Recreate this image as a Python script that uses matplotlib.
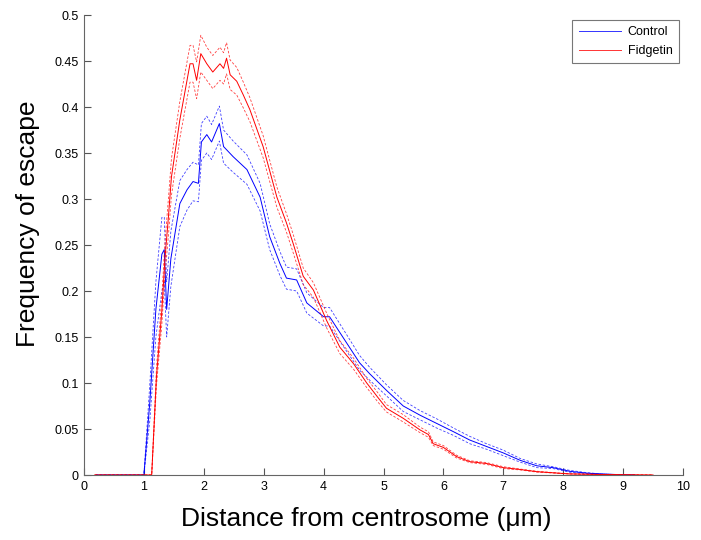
import matplotlib
matplotlib.use("Agg")
import matplotlib.pyplot as plt
import numpy as np

plt.rcParams['font.family'] = ['Liberation Sans', 'DejaVu Sans']

# Control (blue): distance, mean, error half-width
ctrl_x = [0.2, 1.0, 1.1, 1.2, 1.3, 1.34, 1.38, 1.45, 1.6, 1.72, 1.82, 1.91, 1.96, 2.05, 2.13, 2.26,
          2.33, 2.49, 2.72, 2.94, 3.1, 3.27, 3.38, 3.55, 3.72, 4.0, 4.1, 4.39, 4.6, 4.77, 5.05,
          5.33, 5.61, 5.89, 6.17, 6.44, 6.72, 7.0, 7.28, 7.56, 7.83, 8.11, 8.4, 8.67, 9.0, 9.2]
ctrl_mean = [0.0, 0.0, 0.08, 0.18, 0.24, 0.245, 0.18, 0.235, 0.295, 0.31, 0.319, 0.317, 0.362, 0.37, 0.362, 0.382,
             0.357, 0.346, 0.332, 0.302, 0.259, 0.23, 0.214, 0.212, 0.187, 0.172, 0.172, 0.143, 0.122, 0.110, 0.092,
             0.075, 0.065, 0.056, 0.047, 0.038, 0.031, 0.024, 0.016, 0.010, 0.008, 0.004, 0.002, 0.001, 0.0003, 0.0]
ctrl_err = [0.0, 0.0, 0.02, 0.03, 0.04, 0.035, 0.03, 0.03, 0.025, 0.022, 0.021, 0.02, 0.02, 0.02, 0.019, 0.019,
            0.018, 0.017, 0.016, 0.015, 0.014, 0.013, 0.012, 0.012, 0.011, 0.01, 0.01, 0.009, 0.008, 0.007, 0.006,
            0.006, 0.005, 0.005, 0.004, 0.004, 0.003, 0.003, 0.002, 0.002, 0.001, 0.001, 0.0005, 0.0, 0.0, 0.0]

# Fidgetin (red)
fidg_x = [0.18, 1.13, 1.21, 1.3, 1.35, 1.41, 1.46, 1.6, 1.77, 1.82, 1.88, 1.95, 2.05, 2.15, 2.27, 2.33,
          2.38, 2.44, 2.55, 2.66, 2.77, 2.99, 3.22, 3.38, 3.49, 3.66, 3.83, 4.05, 4.27, 4.5, 4.72,
          4.91, 5.05, 5.33, 5.61, 5.75, 5.83, 6.0, 6.22, 6.44, 6.72, 7.0, 7.28, 7.56, 8.1, 8.6, 9.0, 9.5]
fidg_mean = [0.0, 0.0, 0.107, 0.179, 0.234, 0.281, 0.324, 0.386, 0.447, 0.447, 0.429, 0.458, 0.447, 0.438, 0.447, 0.442,
             0.453, 0.435, 0.428, 0.413, 0.397, 0.357, 0.302, 0.274, 0.252, 0.216, 0.201, 0.168, 0.139, 0.121, 0.100,
             0.084, 0.0725, 0.0616, 0.049, 0.044, 0.034, 0.030, 0.020, 0.0145, 0.0125, 0.008, 0.006, 0.0036, 0.0012, 0.0006, 0.0003, 0.0]
fidg_err = [0.0, 0.0, 0.01, 0.015, 0.018, 0.02, 0.02, 0.02, 0.02, 0.02, 0.02, 0.02, 0.018, 0.018, 0.018, 0.017,
            0.017, 0.016, 0.015, 0.014, 0.013, 0.012, 0.011, 0.01, 0.01, 0.009, 0.008, 0.008, 0.007, 0.006, 0.005,
            0.005, 0.004, 0.004, 0.003, 0.003, 0.002, 0.002, 0.0015, 0.001, 0.001, 0.001, 0.0005, 0.0005, 0.0, 0.0, 0.0, 0.0]

x_ticks = [0, 1, 2, 3, 4, 5, 6, 7, 8, 9, 10]
y_ticks = [0, 0.05, 0.1, 0.15, 0.2, 0.25, 0.3, 0.35, 0.4, 0.45, 0.5]
y_ticklabels = ['0', '0.05', '0.1', '0.15', '0.2', '0.25', '0.3', '0.35', '0.4', '0.45', '0.5']

fig = plt.figure(figsize=(7.01, 5.40), dpi=100)
ax = fig.add_axes([84/701, 65/540, (683-84)/701, (475-15)/540])

blue = '#0000ff'
red = '#ff0000'

for xs, m, e, c, lab in [(ctrl_x, ctrl_mean, ctrl_err, blue, 'Control'),
                         (fidg_x, fidg_mean, fidg_err, red, 'Fidgetin')]:
    xs = np.array(xs); m = np.array(m); e = np.array(e)
    ax.plot(xs, m, color=c, lw=0.7, label=lab)
    ax.plot(xs, m + e, color=c, lw=0.6, ls=(0, (3, 2)), alpha=0.75)
    ax.plot(xs, np.maximum(m - e, 0), color=c, lw=0.6, ls=(0, (3, 2)), alpha=0.75)

ax.set_xlim(0, 10)
ax.set_ylim(0, 0.5)
ax.set_xticks(x_ticks)
ax.set_xticklabels([str(t) for t in x_ticks])
ax.set_yticks(y_ticks)
ax.set_yticklabels(y_ticklabels)
ax.tick_params(direction='in', length=5, width=0.8, colors='#555555', labelcolor='black', labelsize=9, pad=4)
for s in ['top', 'right']:
    ax.spines[s].set_visible(False)
for s in ['left', 'bottom']:
    ax.spines[s].set_color('#666666')
    ax.spines[s].set_linewidth(0.8)

ax.set_xlabel('Distance from centrosome (μm)', fontsize=19)
ax.set_ylabel('Frequency of escape', fontsize=19)
ax.xaxis.set_label_coords((366-84)/599, -(526-475)/460)
ax.xaxis.label.set_va('baseline')
ax.yaxis.set_label_coords(-(84-35)/599, (475-224)/460)
ax.yaxis.label.set_va('baseline')

leg = ax.legend(loc='upper right', bbox_to_anchor=((679-84)/599, (475-20)/460), fontsize=9, frameon=True,
                fancybox=False, edgecolor='#555555', handlelength=3.4, borderpad=0.5, labelspacing=0.55,
                handletextpad=0.55, borderaxespad=0.0)
leg.get_frame().set_linewidth(0.8)
for h in leg.get_lines():
    h.set_linewidth(0.7)
    h.set_alpha(0.8)

fig.savefig('out.png', dpi=100)
